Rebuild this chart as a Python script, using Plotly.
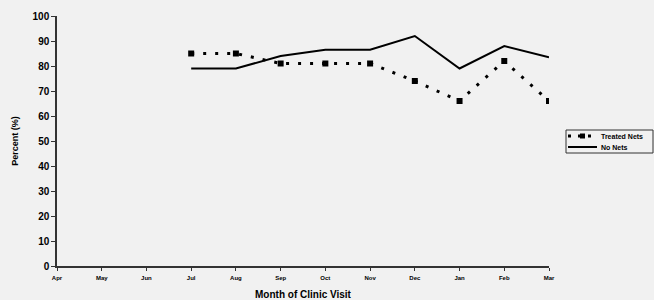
import plotly.graph_objects as go

months = ["Apr", "May", "Jun", "Jul", "Aug", "Sep", "Oct", "Nov", "Dec", "Jan", "Feb", "Mar"]
treated_months = ["Jul", "Aug", "Sep", "Oct", "Nov", "Dec", "Jan", "Feb", "Mar"]
treated_nets = [85, 85, 81, 81, 81, 74, 66, 82, 66]
no_nets = [79, 79, 84, 86.5, 86.5, 92, 79, 88, 83.5]
y_ticks = [0, 10, 20, 30, 40, 50, 60, 70, 80, 90, 100]
series_names = ["Treated Nets", "No Nets"]

font = "Liberation Sans, Arial, sans-serif"
bg = "#f1f1f1"
dotted = dict(color="black", width=3, dash="3px,9px")
solid = dict(color="black", width=2)

fig = go.Figure()
fig.add_trace(go.Scatter(
    x=treated_months, y=treated_nets, name=series_names[0], mode="lines+markers",
    line=dotted, marker=dict(symbol="square", size=6, color="black"), showlegend=False,
))
fig.add_trace(go.Scatter(
    x=treated_months, y=no_nets, name=series_names[1], mode="lines",
    line=solid, showlegend=False,
))

# compact legend box drawn in paper coordinates
W, L = 492.0, 57.0
H, T = 250.0, 16.0
def px(x):
    return (x - L) / W
def py(y):
    return (T + H - y) / H

fig.add_shape(type="rect", xref="paper", yref="paper", x0=px(566), x1=px(653), y0=py(153), y1=py(130),
              line=dict(color="#333", width=1), layer="above")
fig.add_shape(type="line", xref="paper", yref="paper", x0=px(568), x1=px(597), y0=py(136), y1=py(136),
              line=dict(color="black", width=3, dash="3px,7px"))
fig.add_shape(type="rect", xref="paper", yref="paper", x0=px(580), x1=px(585), y0=py(138.5), y1=py(133.5),
              line=dict(color="black", width=0), fillcolor="black")
fig.add_shape(type="line", xref="paper", yref="paper", x0=px(568), x1=px(597), y0=py(147), y1=py(147),
              line=solid)
for name, yy in zip(series_names, [136, 147]):
    fig.add_annotation(xref="paper", yref="paper", x=px(599), y=py(yy), text=name, showarrow=False,
                       xanchor="left", yanchor="middle",
                       font=dict(size=7, family=font, weight="bold", color="black"))

fig.update_layout(
    width=654, height=300,
    margin=dict(l=57, r=105, t=16, b=34, autoexpand=False),
    paper_bgcolor=bg, plot_bgcolor=bg,
    font=dict(family=font, color="black"),
    showlegend=False,
    xaxis=dict(
        type="category", categoryorder="array", categoryarray=months,
        range=[0, 11], showgrid=False, zeroline=False, automargin=False,
        showline=True, linecolor="#333", linewidth=1.5,
        ticks="outside", ticklen=3, tickcolor="#333", ticklabelstandoff=2,
        tickfont=dict(size=6, family=font, weight="bold"),
        title=dict(text="Month of Clinic Visit", font=dict(size=10, family=font, weight="bold"), standoff=12),
    ),
    yaxis=dict(
        range=[0, 100], tickvals=y_ticks, showgrid=False, zeroline=False, automargin=False,
        showline=True, linecolor="#333", linewidth=1.5,
        ticks="outside", ticklen=4, tickcolor="#333",
        tickfont=dict(size=10, family=font, weight="bold"),
        title=dict(text="Percent (%)", font=dict(size=9, family=font, weight="bold"), standoff=12),
    ),
)

fig.write_html(
    "out.html",
    config={"displayModeBar": False},
    post_script="document.body.style.margin='0';document.body.style.background='%s';" % bg,
)
